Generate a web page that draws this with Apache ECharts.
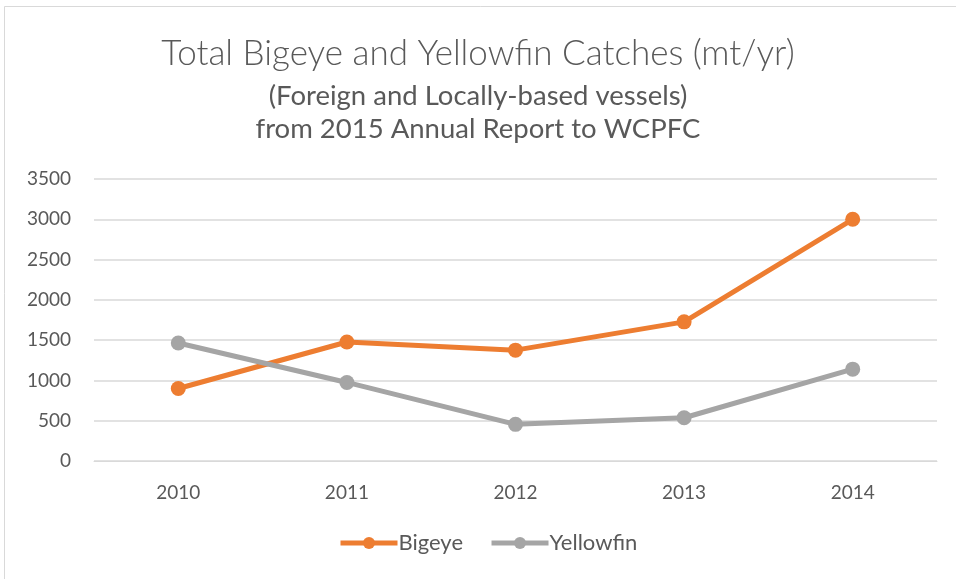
<!DOCTYPE html>
<html>
<head>
<meta charset="utf-8">
<script src="https://cdn.jsdelivr.net/npm/echarts@6/dist/echarts.min.js"></script>
<style>
html,body{margin:0;padding:0;background:#fff;}
#chart{width:956px;height:579px;}
</style>
</head>
<body>
<div id="chart"></div>
<script>
const years = ['2010', '2011', '2012', '2013', '2014'];
const bigeye = [900, 1477, 1376, 1727, 3000];
const yellowfin = [1465, 975, 455, 537, 1140];
const yTicks = { min: 0, max: 3500, interval: 500 };
const titleText = 'Total Bigeye and Yellowfin Catches (mt/yr)';
const subLines = ['(Foreign and Locally-based vessels)', 'from 2015 Annual Report to WCPFC'];

const FONT = 'Lato';
const TXT = '#595959';

const chart = echarts.init(document.getElementById('chart'), null, { renderer: 'canvas' });
chart.setOption({
  backgroundColor: '#ffffff',
  animation: false,
  graphic: [{
    type: 'rect',
    shape: { x: 4.5, y: 6.5, width: 1000, height: 700 },
    style: { fill: 'none', stroke: '#d9d9d9', lineWidth: 1 },
    silent: true
  }],
  title: [{
    text: titleText,
    left: 'center',
    top: 31,
    padding: [5, 0, 5, 12],
    textStyle: { fontFamily: FONT, fontSize: 35, fontWeight: 300, color: TXT }
  }, {
    text: subLines[0],
    left: 'center',
    top: 77,
    padding: [5, 0, 5, 12],
    textStyle: { fontFamily: FONT, fontSize: 27.5, fontWeight: 'normal', color: TXT }
  }, {
    text: subLines[1],
    left: 'center',
    top: 110,
    padding: [5, 0, 5, 12],
    textStyle: { fontFamily: FONT, fontSize: 27.5, fontWeight: 'normal', color: TXT }
  }],
  legend: {
    bottom: 20,
    left: 333,
    itemWidth: 57,
    itemHeight: 15,
    itemGap: 26,
    lineStyle: { width: 5 },
    textStyle: { fontFamily: FONT, fontSize: 22, color: TXT, padding: [0, 0, 0, -4] },
    data: ['Bigeye', 'Yellowfin']
  },
  grid: { left: 94, right: 19, top: 179, bottom: 118, containLabel: false },
  xAxis: {
    type: 'category',
    data: years,
    boundaryGap: true,
    axisLine: { show: true, lineStyle: { color: '#d9d9d9', width: 1 } },
    axisTick: { show: false },
    axisLabel: { fontFamily: FONT, fontSize: 19, color: TXT, margin: 22 }
  },
  yAxis: {
    type: 'value',
    min: yTicks.min,
    max: yTicks.max,
    interval: yTicks.interval,
    axisLine: { show: false },
    axisTick: { show: false },
    axisLabel: { fontFamily: FONT, fontSize: 19, color: TXT, margin: 23, formatter: v => String(v) },
    splitLine: { lineStyle: { color: '#d9d9d9', width: 1.5 } }
  },
  series: [{
    name: 'Bigeye',
    type: 'line',
    data: bigeye,
    symbol: 'circle',
    symbolSize: 15,
    lineStyle: { color: '#ED7D31', width: 5 },
    itemStyle: { color: '#ED7D31' }
  }, {
    name: 'Yellowfin',
    type: 'line',
    data: yellowfin,
    symbol: 'circle',
    symbolSize: 15,
    lineStyle: { color: '#A5A5A5', width: 5 },
    itemStyle: { color: '#A5A5A5' }
  }]
});
</script>
</body>
</html>
